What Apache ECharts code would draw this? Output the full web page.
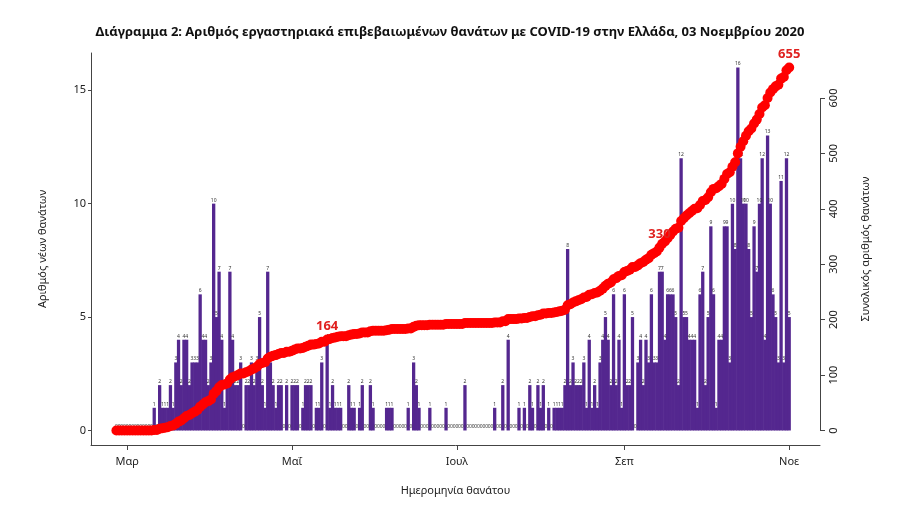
<!DOCTYPE html>
<html>
<head>
    <meta charset="utf-8">
    <title>Διάγραμμα 2 - θάνατοι COVID-19</title>
    <script src="https://cdn.jsdelivr.net/npm/echarts@6/dist/echarts.min.js"></script>
    <style>
        html, body { margin: 0; padding: 0; background: #fff; }
        #main { width: 900px; height: 515px; }
    </style>
</head>
<body>
<div id="main"></div>
<script type="text/javascript">
    // daily deaths by date of death, starting 26 Feb 2020
    var feb = [0, 0, 0, 0];
    var mar = [0, 0, 0, 0, 0, 0, 0, 0, 0, 0, 1, 0, 2, 1, 1, 1, 2, 1, 3, 4, 2, 4, 4, 2, 3, 3, 3, 6, 4, 4, 2];
    var apr = [3, 10, 5, 7, 4, 1, 2, 7, 4, 2, 2, 3, 0, 2, 2, 3, 2, 3, 5, 2, 1, 7, 3, 2, 1, 2, 2, 0, 2, 0];
    var may = [2, 2, 2, 0, 1, 2, 2, 2, 0, 1, 1, 3, 0, 4, 1, 2, 1, 1, 1, 0, 0, 2, 1, 1, 0, 1, 2, 0, 0, 2, 1];
    var jun = [0, 0, 0, 0, 1, 1, 1, 0, 0, 0, 0, 0, 1, 0, 3, 2, 1, 0, 0, 0, 1, 0, 0, 0, 0, 0, 1, 0, 0, 0];
    var jul = [0, 0, 0, 2, 0, 0, 0, 0, 0, 0, 0, 0, 0, 0, 1, 0, 0, 2, 0, 4, 0, 0, 0, 1, 0, 1, 0, 2, 1, 0, 2];
    var aug = [1, 2, 0, 1, 0, 1, 1, 1, 1, 2, 8, 2, 3, 2, 2, 2, 3, 1, 4, 1, 2, 1, 3, 4, 5, 4, 2, 6, 2, 4, 1];
    var sep = [6, 2, 2, 5, 0, 3, 4, 2, 4, 3, 6, 3, 3, 7, 7, 4, 6, 6, 6, 5, 2, 12, 5, 5, 4, 4, 4, 1, 6, 7];
    var oct = [2, 5, 9, 6, 1, 4, 4, 9, 9, 3, 10, 8, 16, 12, 10, 10, 8, 5, 9, 7, 10, 12, 4, 13, 10, 6, 5, 3, 11, 3, 12];
    var nov = [5];

    // day index (0 = 26 Feb) of the month ticks
    var monthTickDays = [4, 65, 126, 188, 249];
    var monthTickNames = ['Μαρ', 'Μαΐ', 'Ιουλ', 'Σεπ', 'Νοε'];
    var leftTicks = [0, 5, 10, 15];
    var rightTicks = [0, 100, 200, 300, 400, 500, 600];
    var milestones = [164, 330, 655];

    var daily = feb.concat(mar, apr, may, jun, jul, aug, sep, oct, nov);
    var running = 0;
    var cumulative = daily.map(function (d) {
        running += d;
        return running;
    });

    var xMin = -9.4, xMax = 260.4;
    var font = 'Noto Sans';

    var barData = daily.map(function (v, i) { return [i, v]; });
    var cumData = cumulative.map(function (v, i) {
        if (milestones.indexOf(v) >= 0 && cumulative.indexOf(v) === i) {
            return {
                value: [i, v],
                label: {
                    show: true,
                    position: 'top',
                    distance: 2,
                    formatter: String(v),
                    color: '#e0211f',
                    fontWeight: 'bold',
                    fontSize: 13,
                    fontFamily: font
                }
            };
        }
        return [i, v];
    });

    var myChart = echarts.init(document.getElementById('main'));
    var option = {
        animation: false,
        title: {
            text: 'Διάγραμμα 2: Αριθμός εργαστηριακά επιβεβαιωμένων θανάτων με COVID-19 στην Ελλάδα, 03 Νοεμβρίου 2020',
            left: 'center',
            top: 21,
            textStyle: {fontSize: 13, fontWeight: 'bold', fontFamily: font, color: '#111'}
        },
        grid: {left: 91, right: 80, top: 53, bottom: 70, outerBoundsMode: 'none'},
        xAxis: {
            type: 'value',
            min: xMin,
            max: xMax,
            name: 'Ημερομηνία θανάτου',
            nameLocation: 'middle',
            nameGap: 40,
            nameTextStyle: {fontSize: 11, fontFamily: font, color: '#222'},
            axisLine: {onZero: false, lineStyle: {color: '#444'}},
            axisTick: {customValues: monthTickDays, length: 5, lineStyle: {color: '#444'}},
            axisLabel: {
                customValues: monthTickDays,
                fontSize: 11, fontFamily: font, color: '#222', margin: 11,
                formatter: function (v) {
                    var k = monthTickDays.indexOf(Math.round(v));
                    return k >= 0 ? monthTickNames[k] : '';
                }
            },
            splitLine: {show: false}
        },
        yAxis: [{
            type: 'value',
            min: -0.64,
            max: 16.64,
            name: 'Αριθμός νέων θανάτων',
            nameLocation: 'middle',
            nameRotate: 90,
            nameGap: 43,
            nameTextStyle: {fontSize: 11, fontFamily: font, color: '#222'},
            axisLine: {show: true, onZero: false, lineStyle: {color: '#444'}},
            axisTick: {show: true, customValues: leftTicks, length: 3, lineStyle: {color: '#444'}},
            axisLabel: {customValues: leftTicks, fontSize: 11, fontFamily: font, color: '#222', margin: 5},
            splitLine: {show: false}
        }, {
            type: 'value',
            position: 'right',
            min: -26.2,
            max: 681.2,
            name: 'Συνολικός αριθμός θανάτων',
            nameLocation: 'middle',
            nameRotate: 90,
            nameGap: 40,
            nameTextStyle: {fontSize: 11, fontFamily: font, color: '#222'},
            axisLine: {show: false, onZero: false},
            axisTick: {show: true, customValues: rightTicks, length: 5, lineStyle: {color: '#444'}},
            axisLabel: {customValues: rightTicks, rotate: 90, fontSize: 11, fontFamily: font, color: '#222', margin: 8},
            splitLine: {show: false}
        }],
        series: [{
            name: 'Νέοι θάνατοι',
            type: 'bar',
            yAxisIndex: 0,
            data: barData,
            barWidth: 3.3,
            itemStyle: {color: '#54278f'},
            label: {
                show: true,
                position: 'top',
                distance: 1,
                fontSize: 5,
                fontFamily: font,
                color: '#333',
                formatter: function (p) { return p.value[1]; }
            },
            z: 2
        }, {
            name: 'Συνολικοί θάνατοι',
            type: 'line',
            yAxisIndex: 1,
            data: cumData,
            symbol: 'circle',
            symbolSize: 10,
            showSymbol: true,
            showAllSymbol: true,
            clip: false,
            itemStyle: {color: '#ff0000'},
            lineStyle: {color: '#ff0000', width: 4},
            markLine: {
                silent: true,
                symbol: ['none', 'none'],
                label: {show: false},
                lineStyle: {color: '#444', width: 1, type: 'solid'},
                data: [[{coord: [xMax, rightTicks[0]]}, {coord: [xMax, rightTicks[rightTicks.length - 1]]}]]
            },
            z: 3
        }]
    };
    myChart.setOption(option);
</script>
</body>
</html>
